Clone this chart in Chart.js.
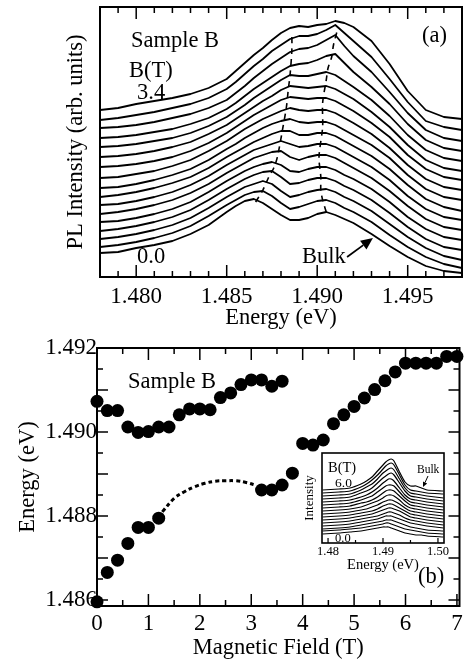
<!DOCTYPE html>
<html lang="en">
<head>
<meta charset="UTF-8" />
<title>Sample B: PL spectra and peak energies vs magnetic field</title>
<style>
  html, body { margin: 0; padding: 0; background: #fff; }
  #page { position: relative; width: 466px; height: 662px; overflow: hidden; background: #fff; }
  canvas { position: absolute; }
  #spectra { left: 0; top: 0; }
  #fan { left: 0; top: 335px; }
  #inset { left: 300px; top: 440px; }
</style>
</head>
<body>
<div id="page">
  <canvas id="spectra" width="466" height="335"></canvas>
  <canvas id="fan" width="466" height="327"></canvas>
  <canvas id="inset" width="160" height="135"></canvas>
</div>

<script src="https://cdn.jsdelivr.net/npm/chart.js"></script>
<script>
  // ---------- panel (a): stacked PL spectra, 0.0 T (first row) to 3.4 T (last row)
  const energyA = [1.478, 1.479, 1.480, 1.481, 1.482, 1.483, 1.484, 1.485, 1.4855, 1.486,
    1.4865, 1.487, 1.4875, 1.488, 1.4885, 1.489, 1.4895, 1.490, 1.4905, 1.491,
    1.4915, 1.492, 1.493, 1.494, 1.495, 1.496, 1.497, 1.498];
  const spectraA = [
    [24,25,29,32,36,43,52, 65,71,76,78,74,68,62,57,57,59,63,65,62,58,54, 43,31,20,11,6,4],
    [30,32,35,39,44,51,61, 72,77,82,85,86,81,74,68,70,73,76,77,74,69,65, 55,42,30,20,13,9],
    [38,40,43,47,52,59,69, 80,85,90,93,96,93,86,80,82,85,87,88,85,80,76, 66,53,40,29,21,17],
    [46,48,51,55,60,67,77, 88,93,98,102,105,106,100,93,94,97,99,99,96,91,87, 77,64,50,38,30,27],
    [55,56,59,63,68,75,85, 96,101,106,110,113,115,112,106,105,108,110,110,107,102,98, 88,75,60,48,40,37],
    [63,65,68,72,77,84,93, 104,109,114,119,122,125,126,120,117,120,122,122,119,114,109, 99,86,71,58,50,47],
    [72,73,76,80,85,92,101, 112,117,122,127,130,133,136,133,130,131,133,133,130,125,120, 110,97,81,68,60,57],
    [80,82,85,89,94,100,109, 120,125,130,135,139,143,146,146,142,142,144,144,141,136,131, 121,108,92,78,70,66],
    [89,90,93,97,102,108,117, 128,133,139,144,149,153,156,158,155,154,155,155,152,147,142, 132,119,102,88,80,77],
    [99,100,103,106,111,117,126, 136,142,148,153,158,162,166,169,167,166,167,167,164,159,154, 143,129,112,98,90,87],
    [110,111,113,116,120,126,134, 144,150,156,162,167,172,177,180,179,178,179,179,176,171,166, 154,140,122,108,100,97],
    [120,121,123,126,130,135,143, 152,158,164,170,176,181,187,191,190,189,190,191,188,183,178, 165,150,132,117,109,106],
    [130,131,133,136,139,144,151, 160,166,172,179,185,191,197,202,201,201,203,205,202,196,190, 177,161,142,127,119,116],
    [139,140,142,145,148,153,159, 168,174,181,188,194,200,206,211,213,214,217,221,223,214,205, 190,173,153,137,129,126],
    [149,150,152,155,159,163,169, 177,184,191,199,206,213,219,225,228,229,232,237,242,231,221, 205,185,164,147,139,136],
    [157,159,162,165,169,173,179, 188,195,203,211,218,226,232,238,241,241,243,247,252,244,236, 220,198,175,156,150,147],
    [167,169,173,176,179,183,189, 198,206,214,222,229,237,244,249,251,250,252,253,256,254,250, 236,213,186,167,160,158]
  ];
  // dashed guides through the two peaks
  const guideLowE  = [1.4866, 1.4870, 1.4873, 1.4876, 1.4878, 1.4881, 1.4883, 1.4884, 1.4885, 1.4886, 1.4886];
  const guideLowI  = [75, 87, 99, 109, 120, 149, 170, 187, 202, 227, 243];
  const guideHighE = [1.4905, 1.4903, 1.4902, 1.4902, 1.4901, 1.4903, 1.4903, 1.4905, 1.4906, 1.4908, 1.4909, 1.4911];
  const guideHighI = [65, 77, 87, 100, 120, 150, 174, 197, 209, 220, 232, 246];
  const xTicksA = [1.480, 1.485, 1.490, 1.495];

  // ---------- panel (b): peak energy vs magnetic field
  const fieldUpper  = [0, 0.2, 0.4, 0.6, 0.8, 1.0, 1.2, 1.4, 1.6, 1.8, 2.0, 2.2, 2.4, 2.6, 2.8, 3.0, 3.2, 3.4, 3.6];
  const energyUpper = [1.49073, 1.49051, 1.49051, 1.49012, 1.48999, 1.49001, 1.49012, 1.49012, 1.49041, 1.49055,
    1.49055, 1.49053, 1.49082, 1.49093, 1.49113, 1.49124, 1.49124, 1.49109, 1.49121];
  const fieldLower  = [0, 0.2, 0.4, 0.6, 0.8, 1.0, 1.2, 3.2, 3.4, 3.6, 3.8];
  const energyLower = [1.48596, 1.48666, 1.48695, 1.48735, 1.48773, 1.48773, 1.48795, 1.48862, 1.48862, 1.48874, 1.48902];
  const fieldHigh   = [4.0, 4.2, 4.4, 4.6, 4.8, 5.0, 5.2, 5.4, 5.6, 5.8, 6.0, 6.2, 6.4, 6.6, 6.8, 7.0];
  const energyHigh  = [1.48973, 1.48969, 1.48981, 1.4902, 1.49041, 1.49061, 1.49081, 1.49101, 1.49122, 1.49143,
    1.49164, 1.49164, 1.49164, 1.49164, 1.4918, 1.4918];
  const fieldDotted  = [1.27, 1.5, 1.7, 1.9, 2.1, 2.3, 2.5, 2.7, 2.9, 3.1];
  const energyDotted = [1.4881, 1.48842, 1.48858, 1.4887, 1.48878, 1.48883, 1.48884, 1.48884, 1.4888, 1.48873];
  const fieldTicks  = [0, 1, 2, 3, 4, 5, 6, 7];
  const energyTicks = [1.486, 1.488, 1.490, 1.492];

  // ---------- inset: spectra up to 6.0 T, 0.0 T first row
  const energyInset = [1.479, 1.482, 1.484, 1.486, 1.487, 1.488, 1.489, 1.490, 1.4905, 1.491,
    1.4915, 1.492, 1.493, 1.494, 1.495, 1.496, 1.497, 1.498, 1.501];
  const spectraInset = [
    [9,10,11,12,13,14,15,16,16,16,15,14,12,10,9,8,8,7,6],
    [12,13,14,15,16,17,18,19,20,20,19,18,16,14,13,12,11,10,9],
    [14,15,16,18,19,20,21,22,23,23,23,22,20,18,16,15,14,13,12],
    [17,18,19,21,22,23,24,26,27,27,27,26,24,22,20,19,18,17,15],
    [20,21,22,24,25,26,27,29,30,31,31,30,28,25,23,22,21,20,18],
    [23,24,25,27,28,29,31,33,34,35,35,34,32,29,26,25,24,23,21],
    [26,27,28,30,31,32,34,37,38,39,39,38,35,32,29,28,27,26,24],
    [29,30,31,33,34,36,38,41,42,43,43,42,39,35,32,31,30,29,27],
    [32,33,34,36,38,40,42,45,47,48,48,47,43,38,35,34,33,32,30],
    [35,36,37,40,41,43,46,50,52,53,53,52,47,42,38,37,36,35,33],
    [38,39,40,43,45,47,51,55,57,58,58,57,51,45,41,40,39,38,36],
    [41,42,43,46,48,51,55,60,62,64,64,62,55,48,44,43,42,41,39],
    [44,45,46,50,52,55,60,65,67,69,70,68,60,52,47,46,45,44,42],
    [47,48,49,53,56,59,64,70,72,74,75,73,64,55,50,49,48,47,45],
    [50,51,52,56,59,63,68,74,77,79,80,78,68,58,53,52,51,50,49],
    [53,54,55,59,62,66,72,78,81,83,84,82,71,61,57,57,55,53,52]
  ];
  const xTicksInset = [1.48, 1.49, 1.50];

  Chart.defaults.font.family = '"Liberation Serif", "Times New Roman", serif';
  Chart.defaults.color = '#000';
  Chart.defaults.animation = false;

  const serif = (size) => ({ family: '"Liberation Serif", "Times New Roman", serif', size: size });
  const toPoints = (xs, ys) => xs.map((x, i) => ({ x: x, y: ys[i] }));
  const marks = (major, minor, majLen, minLen) =>
    major.map(v => ({ v: v, len: majLen })).concat(minor.map(v => ({ v: v, len: minLen })));
  const minorBetween = (from, to, step, major) => {
    const out = [];
    for (let v = from; v <= to + step / 2; v += step) {
      const r = Math.round(v / step) * step;
      if (!major.some(m => Math.abs(m - r) < step / 10)) out.push(r);
    }
    return out;
  };

  // box round the plot area + inward tick marks
  const framePlugin = {
    id: 'frame',
    beforeDraw(chart, args, opts) {
      if (!opts.fill) return;
      const a = chart.chartArea, ctx = chart.ctx;
      ctx.save();
      ctx.fillStyle = opts.fill;
      ctx.fillRect(a.left, a.top, a.right - a.left, a.bottom - a.top);
      ctx.restore();
    },
    beforeDatasetsDraw(chart, args, opts) {
      const { ctx, chartArea: a, scales } = chart;
      ctx.save();
      ctx.strokeStyle = '#000';
      ctx.lineWidth = opts.lineWidth || 2;
      ctx.strokeRect(a.left, a.top, a.right - a.left, a.bottom - a.top);
      ctx.lineWidth = opts.tickWidth || 1.5;
      ctx.beginPath();
      (opts.x || []).forEach(t => {
        const px = scales.x.getPixelForValue(t.v);
        if (opts.xSides.includes('bottom')) { ctx.moveTo(px, a.bottom); ctx.lineTo(px, a.bottom - t.len); }
        if (opts.xSides.includes('top')) { ctx.moveTo(px, a.top); ctx.lineTo(px, a.top + t.len); }
      });
      (opts.y || []).forEach(t => {
        const py = scales.y.getPixelForValue(t.v);
        if (opts.ySides.includes('left')) { ctx.moveTo(a.left, py); ctx.lineTo(a.left + t.len, py); }
        if (opts.ySides.includes('right')) { ctx.moveTo(a.right, py); ctx.lineTo(a.right - t.len, py); }
      });
      ctx.stroke();
      ctx.restore();
    }
  };

  // free text and arrows
  const notePlugin = {
    id: 'notes',
    afterDraw(chart, args, opts) {
      const { ctx, scales } = chart;
      ctx.save();
      ctx.fillStyle = '#000';
      ctx.strokeStyle = '#000';
      ctx.textBaseline = 'alphabetic';
      (opts.texts || []).forEach(t => {
        ctx.font = t.size + 'px "Liberation Serif", "Times New Roman", serif';
        ctx.textAlign = t.align || 'left';
        ctx.fillText(t.text, t.x, t.y);
      });
      (opts.arrows || []).forEach(ar => {
        const x0 = scales.x.getPixelForValue(ar.from[0]), y0 = scales.y.getPixelForValue(ar.from[1]);
        const x1 = scales.x.getPixelForValue(ar.to[0]), y1 = scales.y.getPixelForValue(ar.to[1]);
        const ang = Math.atan2(y1 - y0, x1 - x0);
        const hl = ar.head, hw = ar.head * 0.45;
        const bx = x1 - hl * Math.cos(ang), by = y1 - hl * Math.sin(ang);
        ctx.lineWidth = ar.width;
        ctx.beginPath();
        ctx.moveTo(x0, y0);
        ctx.lineTo(bx, by);
        ctx.stroke();
        ctx.beginPath();
        ctx.moveTo(x1, y1);
        ctx.lineTo(bx + hw * Math.sin(ang), by - hw * Math.cos(ang));
        ctx.lineTo(bx - hw * Math.sin(ang), by + hw * Math.cos(ang));
        ctx.closePath();
        ctx.fill();
      });
      ctx.restore();
    }
  };

  const baseOptions = {
    responsive: false,
    devicePixelRatio: 1,
    events: [],
    plugins: { legend: { display: false }, tooltip: { enabled: false } }
  };

  // ---------- chart (a)
  const curveSets = spectraA.map(row => ({
    data: toPoints(energyA, row),
    showLine: true, borderColor: '#000', borderWidth: 1.8, pointRadius: 0, tension: 0,
    borderJoinStyle: 'round'
  }));
  const guideStyle = { showLine: true, borderColor: '#000', borderWidth: 1.6, borderDash: [6, 5], pointRadius: 0, tension: 0.3 };

  new Chart(document.getElementById('spectra'), {
    type: 'scatter',
    data: {
      datasets: curveSets.concat([
        Object.assign({ data: toPoints(guideLowE, guideLowI) }, guideStyle),
        Object.assign({ data: toPoints(guideHighE, guideHighI) }, guideStyle)
      ])
    },
    plugins: [framePlugin, notePlugin],
    options: Object.assign({}, baseOptions, {
      layout: { padding: { top: 7, right: 4, left: 0, bottom: 0 } },
      scales: {
        x: {
          type: 'linear', min: 1.478, max: 1.498,
          grid: { display: false, drawTicks: false }, border: { display: false },
          afterBuildTicks: s => { s.ticks = xTicksA.map(v => ({ value: v })); },
          afterFit: s => { s.height = 58; s.paddingLeft = 0; s.paddingRight = 0; },
          ticks: { font: serif(23), padding: 6, maxRotation: 0, autoSkip: false, callback: v => v.toFixed(3) },
          title: { display: true, text: 'Energy (eV)', font: serif(22.5), padding: { top: 0, bottom: 3 } }
        },
        y: {
          min: 0, max: 270,
          grid: { display: false, drawTicks: false }, border: { display: false },
          ticks: { display: false },
          afterFit: s => { s.width = 100; s.paddingTop = 0; s.paddingBottom = 0; },
          title: { display: true, text: 'PL Intensity (arb. units)', font: serif(22.5), padding: { top: 63, bottom: 0 } }
        }
      },
      plugins: Object.assign({}, baseOptions.plugins, {
        frame: {
          lineWidth: 2, tickWidth: 1.5, xSides: ['bottom', 'top'], ySides: [],
          x: marks(xTicksA, minorBetween(1.478, 1.498, 0.001, xTicksA), 12, 6)
        },
        notes: {
          texts: [
            { text: 'Sample B', x: 131, y: 47, size: 22.5 },
            { text: 'B(T)', x: 129, y: 77, size: 22.5 },
            { text: '3.4', x: 137, y: 99, size: 22.5 },
            { text: '0.0', x: 137, y: 263, size: 22.5 },
            { text: 'Bulk', x: 302, y: 263, size: 22.5 },
            { text: '(a)', x: 422, y: 42, size: 22.5 }
          ],
          arrows: [{ from: [1.49165, 20], to: [1.49308, 39], head: 12, width: 1.8 }]
        }
      })
    })
  });

  // ---------- chart (b)
  const dotStyle = { pointRadius: 6.5, pointBackgroundColor: '#000', pointBorderWidth: 0, clip: false };
  new Chart(document.getElementById('fan'), {
    type: 'scatter',
    data: {
      datasets: [
        { data: toPoints(fieldDotted, energyDotted), showLine: true, borderColor: '#000', borderWidth: 3,
          borderDash: [4, 3], pointRadius: 0, tension: 0.4 },
        Object.assign({ data: toPoints(fieldUpper, energyUpper) }, dotStyle),
        Object.assign({ data: toPoints(fieldLower, energyLower) }, dotStyle),
        Object.assign({ data: toPoints(fieldHigh, energyHigh) }, dotStyle)
      ]
    },
    plugins: [framePlugin, notePlugin],
    options: Object.assign({}, baseOptions, {
      layout: { padding: { top: 13, right: 3, left: 0, bottom: 0 } },
      scales: {
        x: {
          type: 'linear', min: 0, max: 7.05,
          grid: { display: false, drawTicks: false }, border: { display: false },
          afterBuildTicks: s => { s.ticks = fieldTicks.map(v => ({ value: v })); },
          afterFit: s => { s.height = 56; s.paddingLeft = 0; s.paddingRight = 0; },
          ticks: { font: serif(23), padding: 4.5, maxRotation: 0, autoSkip: false, callback: v => String(v) },
          title: { display: true, text: 'Magnetic Field (T)', font: serif(22.5), padding: { top: 0, bottom: 0 } }
        },
        y: {
          min: 1.48586, max: 1.492,
          grid: { display: false, drawTicks: false }, border: { display: false },
          afterBuildTicks: s => { s.ticks = energyTicks.map(v => ({ value: v })); },
          afterFit: s => { s.width = 97; s.paddingTop = 0; s.paddingBottom = 0; },
          ticks: { font: serif(23), padding: 0, autoSkip: false, callback: v => v.toFixed(3) },
          title: { display: true, text: 'Energy (eV)', font: serif(22.5), padding: { top: 15, bottom: 0 } }
        }
      },
      plugins: Object.assign({}, baseOptions.plugins, {
        frame: {
          lineWidth: 2, tickWidth: 1.5, xSides: ['bottom', 'top'], ySides: ['left', 'right'],
          x: marks(fieldTicks, [0.5, 1.5, 2.5, 3.5, 4.5, 5.5, 6.5], 12, 6),
          y: marks([1.486, 1.487, 1.488, 1.489, 1.490, 1.491, 1.492],
                   [1.4865, 1.4875, 1.4885, 1.4895, 1.4905, 1.4915], 11, 6)
        },
        notes: {
          texts: [
            { text: 'Sample B', x: 128, y: 53, size: 22.5 },
            { text: '(b)', x: 418, y: 248, size: 22.5 }
          ]
        }
      })
    })
  });

  // ---------- inset
  new Chart(document.getElementById('inset'), {
    type: 'scatter',
    data: {
      datasets: spectraInset.map(row => ({
        data: toPoints(energyInset, row),
        showLine: true, borderColor: '#000', borderWidth: 1.2, pointRadius: 0, tension: 0.2
      }))
    },
    plugins: [framePlugin, notePlugin],
    options: Object.assign({}, baseOptions, {
      layout: { padding: { top: 13, right: 16, left: 0, bottom: 0 } },
      scales: {
        x: {
          type: 'linear', min: 1.4789, max: 1.5011,
          grid: { display: false, drawTicks: false }, border: { display: false },
          afterBuildTicks: s => { s.ticks = xTicksInset.map(v => ({ value: v })); },
          afterFit: s => { s.height = 32; s.paddingLeft = 0; s.paddingRight = 0; },
          ticks: { font: serif(12.5), padding: 1, maxRotation: 0, autoSkip: false, callback: v => v.toFixed(2) },
          title: { display: true, text: 'Energy (eV)', font: serif(14.5), padding: { top: 0, bottom: 1 } }
        },
        y: {
          min: 0, max: 90,
          grid: { display: false, drawTicks: false }, border: { display: false },
          ticks: { display: false },
          afterFit: s => { s.width = 22; s.paddingTop = 0; s.paddingBottom = 0; },
          title: { display: true, text: 'Intensity', font: serif(13), padding: { top: 2.2, bottom: 0 } }
        }
      },
      plugins: Object.assign({}, baseOptions.plugins, {
        frame: {
          fill: '#fff', lineWidth: 1.6, tickWidth: 1.2, xSides: ['bottom'], ySides: [],
          x: marks(xTicksInset, [1.485, 1.495], 5, 3)
        },
        notes: {
          texts: [
            { text: 'B(T)', x: 28, y: 32, size: 14.5 },
            { text: '6.0', x: 35, y: 47, size: 13.5 },
            { text: 'Bulk', x: 117, y: 33, size: 11.5 },
            { text: '0.0', x: 35, y: 102, size: 12.5 }
          ],
          arrows: [{ from: [1.49819, 67], to: [1.49728, 56], head: 5, width: 1 }]
        }
      })
    })
  });
</script>
</body>
</html>
